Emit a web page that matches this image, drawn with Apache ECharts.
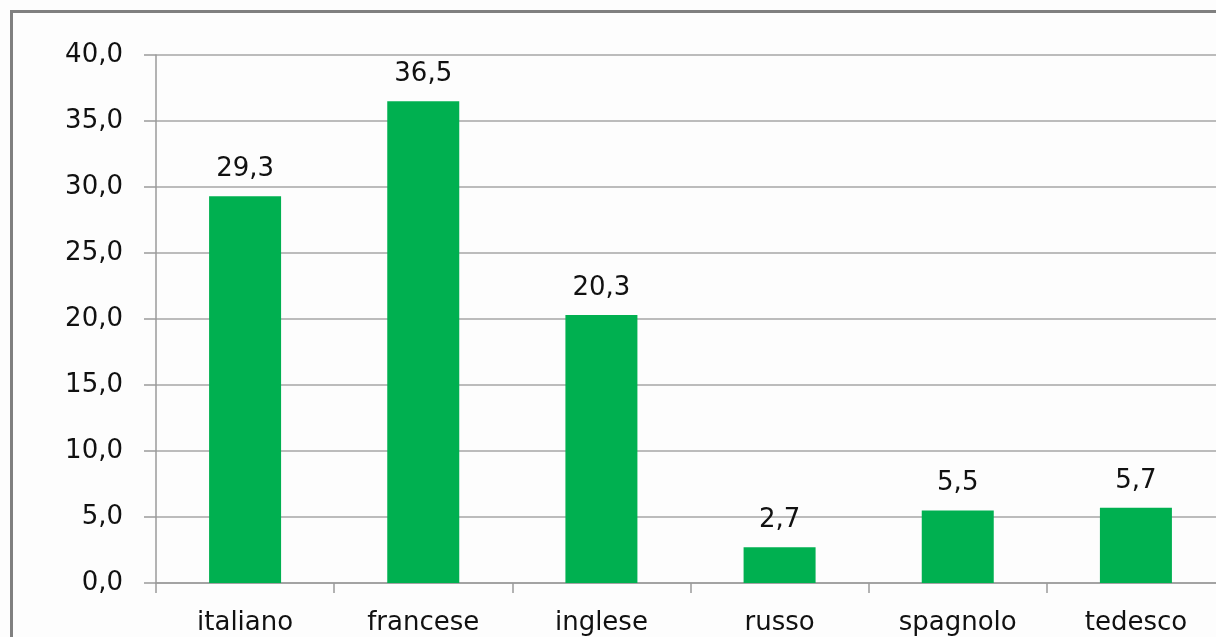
<!DOCTYPE html>
<html>
<head>
<meta charset="utf-8">
<script src="https://cdn.jsdelivr.net/npm/echarts@6/dist/echarts.min.js"></script>
<style>
html,body{margin:0;padding:0;background:#fdfdfd;}
#c{width:1216px;height:637px;}
</style>
</head>
<body>
<div id="c"></div>
<script>
const categories = ['italiano', 'francese', 'inglese', 'russo', 'spagnolo', 'tedesco'];
const values = [29.3, 36.5, 20.3, 2.7, 5.5, 5.7];
const yMin = 0, yMax = 40, yStep = 5;

const fmt = v => Number(v).toFixed(1).replace('.', ',');
const font = 'DejaVu Sans';
const chart = echarts.init(document.getElementById('c'), null, {renderer: 'canvas'});
chart.setOption({
  backgroundColor: '#fdfdfd',
  animation: false,
  graphic: [{
    type: 'rect', left: 9, top: 9, silent: true,
    shape: {width: 1400, height: 800},
    style: {fill: 'none', stroke: '#808080', lineWidth: 3}
  }],
  grid: {left: 156, width: 1069, top: 55, height: 528, containLabel: false, outerBoundsMode: 'none'},
  xAxis: {
    type: 'category',
    data: categories,
    axisLine: {show: true, lineStyle: {color: '#9a9a9a', width: 1.5}},
    axisTick: {show: true, alignWithLabel: false, interval: 0, length: 10, lineStyle: {color: '#9a9a9a', width: 1.5}},
    axisLabel: {color: '#111', fontFamily: font, fontSize: 26, margin: 27, interval: 0},
    splitLine: {show: false}
  },
  yAxis: {
    type: 'value',
    min: yMin, max: yMax, interval: yStep,
    axisLine: {show: true, lineStyle: {color: '#9a9a9a', width: 1.5}},
    axisTick: {show: true, length: 12, lineStyle: {color: '#9a9a9a', width: 1.5}},
    axisLabel: {color: '#111', fontFamily: font, fontSize: 26, margin: 33, formatter: fmt},
    splitLine: {show: true, lineStyle: {color: '#a6a6a6', width: 1.5}}
  },
  series: [{
    type: 'bar',
    data: values,
    barWidth: 72,
    itemStyle: {color: '#00b050'},
    label: {show: true, position: 'top', distance: 14, color: '#111', fontFamily: font, fontSize: 26, formatter: p => fmt(p.value)}
  }]
});
</script>
</body>
</html>
